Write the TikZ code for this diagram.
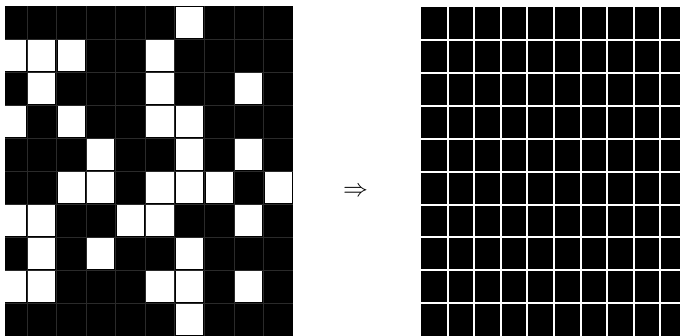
\documentclass[tikz,border=0pt]{standalone}
\usetikzlibrary{positioning}
\definecolor{color_cell}{HTML}{000000}
\definecolor{color_rule}{HTML}{2A2A2A}
\tikzset{
  cell_black/.style={fill=color_cell},
  cell_white/.style={fill=white},
  cell_rule/.style={draw=color_rule, line width=0.6pt},
  gap_rule/.style={draw=white, line width=2pt},
  map_label/.style={font=\fontsize{26}{30}\selectfont, inner sep=0pt},
}
\begin{document}
\begin{tikzpicture}[x=1pt, y=-1pt]
    \useasboundingbox (0,0) rectangle (680,336);
    % before: random pattern of white cells
    \begin{scope}
      \clip (5,6) rectangle (293,336);
      \fill[cell_black] (-2.6,6) rectangle (293,336);
      \foreach \i in {1,...,9} {
        \draw[cell_rule] ({-2.6+\i*29.56},6) -- ({-2.6+\i*29.56},336);
        \draw[cell_rule] (-2.6,{6+\i*33}) -- (293,{6+\i*33});
      }
      \foreach \row/\cols in {0/{6}, 1/{0,1,2,5}, 2/{1,5,8}, 3/{0,2,5,6}, 4/{3,6,8},
                             5/{2,3,5,6,7,9}, 6/{0,1,4,5,8}, 7/{1,3,6}, 8/{0,1,5,6,8}, 9/{6}} {
        \foreach \col in \cols {
          \fill[cell_white] ({-2.6+\col*29.56+1.2},{6+\row*33+1.2})
            rectangle ({-2.6+(\col+1)*29.56-1.2},{6+(\row+1)*33-1.2});
        }
      }
    \end{scope}
    \node[map_label] (map_arrow) at (355.5,192) {$\Rightarrow$};
    % after: every cell black
    \begin{scope}
      \clip (421,7.5) rectangle (680,336);
      \fill[cell_black] (421,7.5) rectangle (690,336);
      \foreach \i in {1,...,9} {
        \draw[gap_rule] ({421+\i*26.6},7.5) -- ({421+\i*26.6},336);
        \draw[gap_rule] (421,{7.5+\i*32.85}) -- (690,{7.5+\i*32.85});
      }
    \end{scope}
  \end{tikzpicture}
\end{document}
